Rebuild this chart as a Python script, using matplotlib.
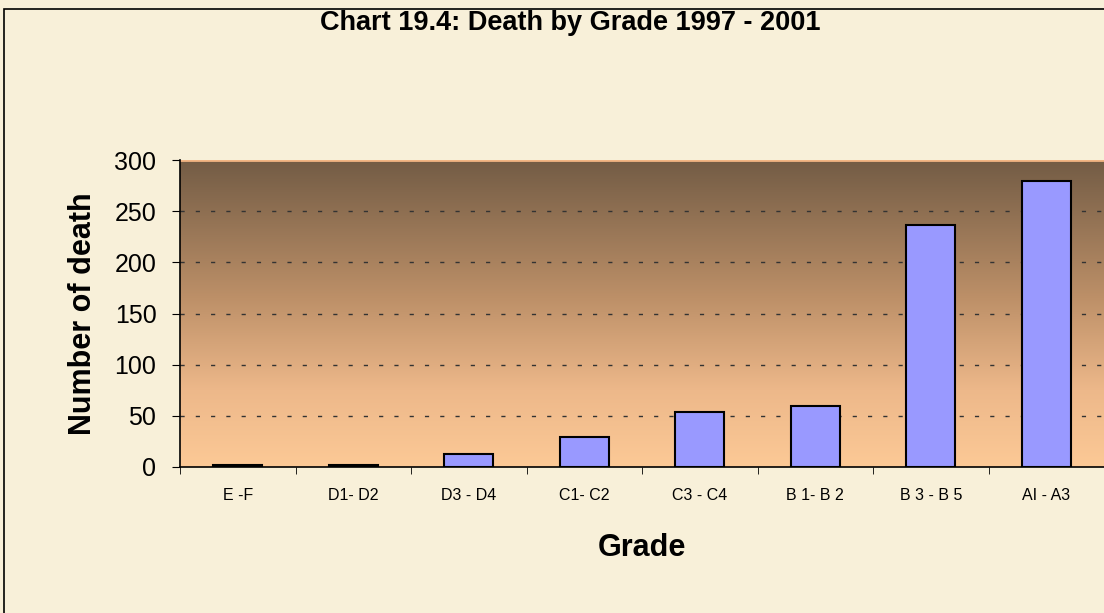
import matplotlib
matplotlib.use("Agg")
import matplotlib.pyplot as plt
import numpy as np
from matplotlib.colors import LinearSegmentedColormap
from matplotlib.patches import Rectangle

categories = ["E -F", "D1- D2", "D3 - D4", "C1- C2", "C3 - C4", "B 1- B 2", "B 3 - B 5", "AI - A3"]
deaths = [2, 2, 13, 29, 54, 60, 236, 279]
yticks = [0, 50, 100, 150, 200, 250, 300]

W, H = 1104, 613
fig = plt.figure(figsize=(W / 100, H / 100), dpi=100)
fig.patch.set_facecolor("#F8F0D9")

# outer frame
fig.patches.append(Rectangle((4 / W, -0.01), 1.1, 1 - 9 / H + 0.01, transform=fig.transFigure,
                             fill=False, edgecolor="black", linewidth=1.2, zorder=0))

ax = fig.add_axes([180 / W, 1 - 467 / H, (W - 180) / W, (467 - 160) / H])
ax.set_facecolor("none")

cmap = LinearSegmentedColormap.from_list("bg", [(0.0, "#FCC996"), (0.25, "#EDB88A"),
                                               (0.55, "#BD9068"), (1.0, "#735C45")])
grad = np.linspace(0, 1, 256).reshape(-1, 1)
ax.imshow(grad, cmap=cmap, origin="lower", extent=[0, 1, 0, 1], transform=ax.transAxes,
          aspect="auto", zorder=0, interpolation="bilinear")

x = np.arange(len(categories))
ax.bar(x, deaths, width=0.42, color="#9999FF", edgecolor="black", linewidth=1.5, zorder=3)

ax.set_xlim(-0.5, len(categories) - 0.5)
ax.set_ylim(0, 300)
ax.set_yticks(yticks)
ax.set_yticklabels([str(v) for v in yticks], fontsize=18, family="Liberation Sans")
ax.set_xticks(x)
ax.set_xticklabels(categories, fontsize=11.5, family="Liberation Sans")
ax.set_xticks(np.arange(len(categories) + 1) - 0.5, minor=True)
ax.tick_params(axis="x", which="major", length=0, pad=15)
ax.tick_params(axis="x", which="minor", length=5, direction="out", color="black")
ax.tick_params(axis="y", length=6, direction="out", pad=11)

for v in yticks[1:-1]:
    ax.axhline(v, color="#333333", linestyle=(0, (3, 8)), linewidth=1, zorder=2)

for s in ["top", "right"]:
    ax.spines[s].set_visible(False)
ax.axhline(300, color="#F2B583", linewidth=2, zorder=2)
ax.spines["left"].set_linewidth(1.2)
ax.spines["bottom"].set_linewidth(1.2)

ax.set_ylabel("Number of death", fontsize=22, fontweight="bold", family="Liberation Sans", labelpad=12)
ax.set_xlabel("Grade", fontsize=22, fontweight="bold", family="Liberation Sans", labelpad=22)

fig.text(570 / W, 1 - 23 / H, "Chart 19.4: Death by Grade 1997 - 2001", ha="center", va="center",
         fontsize=19.5, fontweight="bold", family="Liberation Sans")

fig.savefig("out.png", dpi=100, facecolor=fig.get_facecolor())
